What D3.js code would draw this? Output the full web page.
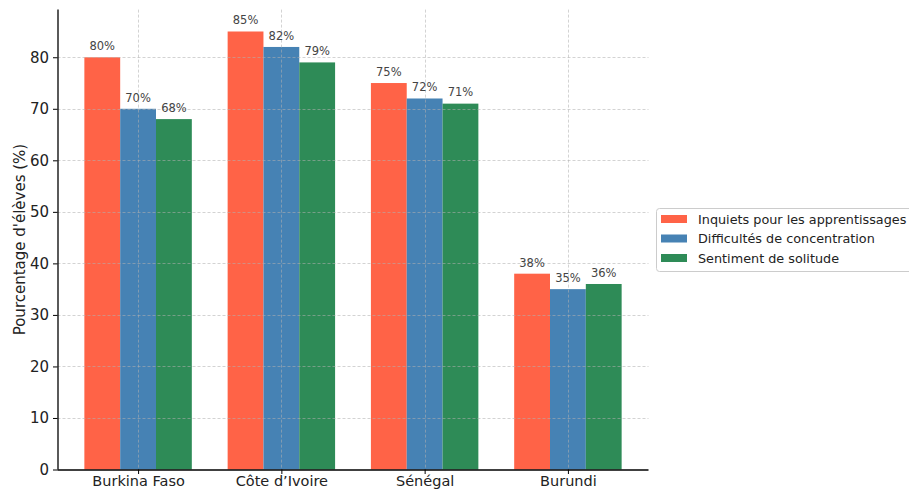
<!DOCTYPE html>
<html><head><meta charset="utf-8">
<script src="https://cdn.jsdelivr.net/npm/d3@7"></script>
<style>body{margin:0;background:#fff}svg{display:block}text{font-family:"DejaVu Sans",sans-serif}</style>
</head><body><svg id="c" width="909" height="490"></svg>
<script>
const categories = ["Burkina Faso", "Côte d’Ivoire", "Sénégal", "Burundi"];
const seriesNames = ["Inquiets pour les apprentissages", "Difficultés de concentration", "Sentiment de solitude"];
const inquiets = [80, 85, 75, 38];
const concentration = [70, 82, 72, 35];
const solitude = [68, 79, 71, 36];
const yTicks = [0, 10, 20, 30, 40, 50, 60, 70, 80];
const colors = ["#FF6347", "#4682B4", "#2E8B57"];
const series = [inquiets, concentration, solitude];

const svg = d3.select("#c");
const pLeft = 57.5, pRight = 648.5, pTop = 9.6, pBottom = 469.5;
const x = d3.scaleLinear().domain([-0.5625, 3.5625]).range([pLeft, pRight]);
const y = d3.scaleLinear().domain([0, 89.25]).range([pBottom, pTop]);
const bw = 0.25;

// bars
series.forEach((s, si) => {
  svg.append("g").selectAll("rect").data(s).join("rect")
    .attr("x", (d, i) => x(i + (si - 1) * bw - bw / 2))
    .attr("width", (d, i) => x(i + (si - 1) * bw + bw / 2) - x(i + (si - 1) * bw - bw / 2))
    .attr("y", d => y(d))
    .attr("height", d => y(0) - y(d))
    .attr("fill", colors[si]);
});

// grid (above bars, like matplotlib default)
const grid = svg.append("g").attr("stroke", "#b0b0b0").attr("stroke-opacity", 0.7)
  .attr("stroke-dasharray", "3,2").attr("stroke-width", 0.8);
grid.selectAll("line.h").data(yTicks.slice(1)).join("line")
  .attr("x1", pLeft).attr("x2", pRight).attr("y1", d => Math.round(y(d)) + 0.5).attr("y2", d => Math.round(y(d)) + 0.5);
grid.selectAll("line.v").data(categories).join("line")
  .attr("x1", (d, i) => Math.round(x(i)) + 0.5).attr("x2", (d, i) => Math.round(x(i)) + 0.5)
  .attr("y1", pTop).attr("y2", pBottom);

// value labels
series.forEach((s, si) => {
  svg.append("g").selectAll("text").data(s).join("text")
    .attr("x", (d, i) => x(i + (si - 1) * bw))
    .attr("y", d => y(d + 1) - 2)
    .attr("text-anchor", "middle")
    .attr("font-size", 11.5).attr("fill", "#444")
    .text(d => d + "%");
});

// axes
const yAxis = d3.axisLeft(y).tickValues(yTicks).tickSize(4.5).tickPadding(4);
const gy = svg.append("g").attr("transform", `translate(${pLeft},0)`).call(yAxis);
gy.select(".domain").attr("d", `M0.5,${pTop}V${pBottom}`).attr("stroke", "#000").attr("stroke-width", 1.3);
gy.selectAll("text").attr("font-size", 15).attr("fill", "#222").style("font-family", "DejaVu Sans");

const xAxis = d3.axisBottom(x).tickValues([0, 1, 2, 3]).tickFormat(i => categories[i]).tickSize(4.5).tickPadding(2);
const gx = svg.append("g").attr("transform", `translate(0,${pBottom})`).call(xAxis);
gx.select(".domain").attr("d", `M${pLeft},0.5H${pRight}`).attr("stroke", "#000").attr("stroke-width", 1.3);
gx.selectAll("text").attr("font-size", 14.5).attr("fill", "#222").style("font-family", "DejaVu Sans");

svg.append("text").attr("transform", `translate(25,${(pTop + pBottom) / 2}) rotate(-90)`)
  .attr("text-anchor", "middle").attr("font-size", 15).attr("fill", "#222")
  .text("Pourcentage d'élèves (%)");

// legend
const lg = svg.append("g").attr("transform", "translate(656,208)");
lg.append("rect").attr("x", 0.5).attr("y", 0.5).attr("width", 270).attr("height", 63).attr("rx", 3)
  .attr("fill", "#fff").attr("stroke", "#ccc");
seriesNames.forEach((n, i) => {
  lg.append("rect").attr("x", 5).attr("y", 7 + i * 19.5).attr("width", 26).attr("height", 8).attr("fill", colors[i]);
  lg.append("text").attr("x", 42).attr("y", 15.5 + i * 19.5).attr("font-size", 12.8).attr("fill", "#222").text(n);
});
</script></body></html>
